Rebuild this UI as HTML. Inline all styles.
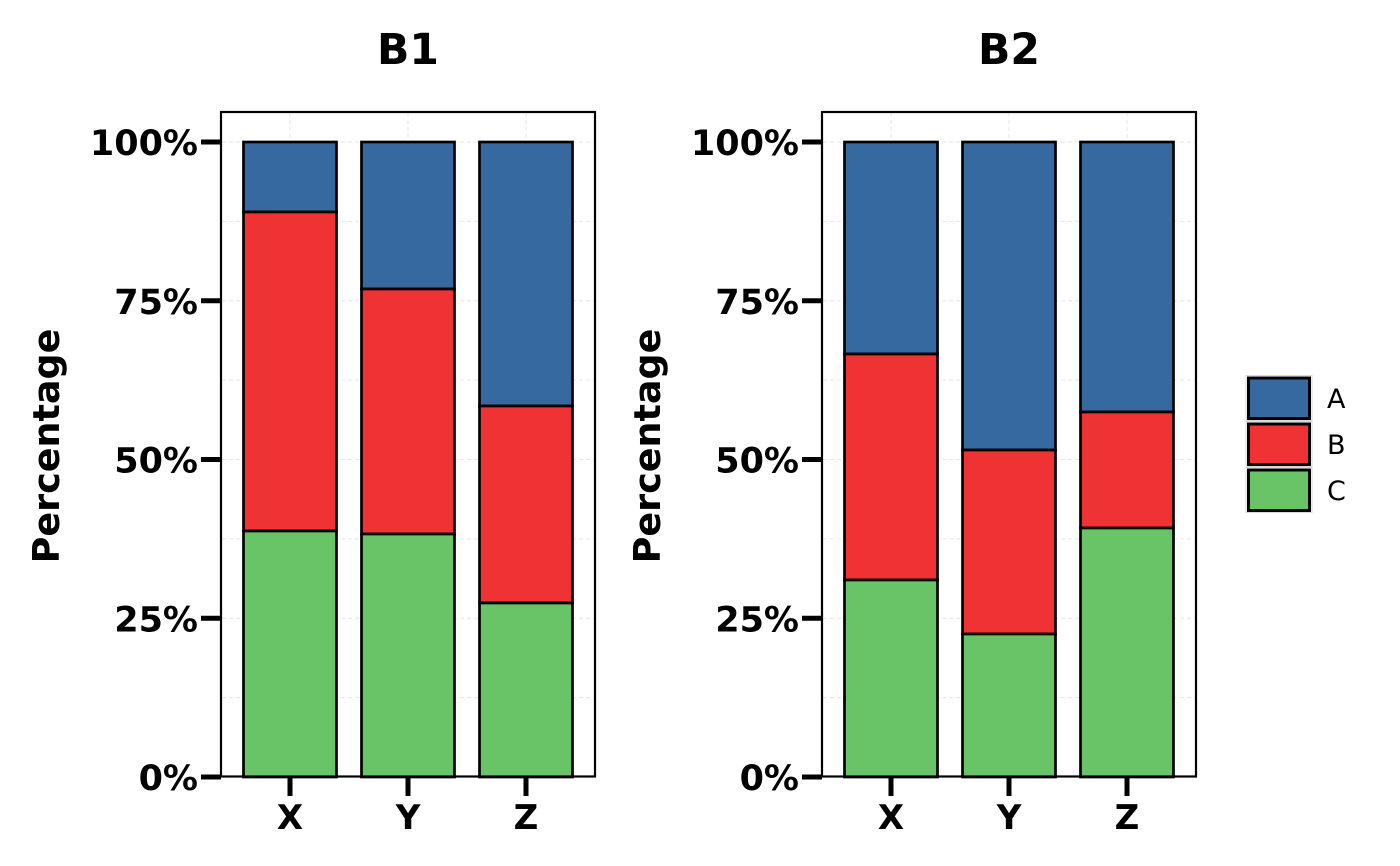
<!DOCTYPE html>
<html>
<head>
<meta charset="utf-8">
<style>
  html, body { margin: 0; padding: 0; background: #ffffff; }
  svg { display: block; }
  text { font-family: "DejaVu Sans", "Liberation Sans", sans-serif; }
</style>
</head>
<body>
<svg width="1400" height="866" viewBox="0 0 1400 866" xmlns="http://www.w3.org/2000/svg">
  <rect x="0" y="0" width="1400" height="866" fill="#ffffff"/>

  <!-- ============ PANEL 1 ============ -->
  <g id="p1">
    <g stroke="#e6e6e6" stroke-width="1" stroke-dasharray="4,3">
      <line x1="222" x2="594" y1="142" y2="142"/>
      <line x1="222" x2="594" y1="221.4" y2="221.4"/>
      <line x1="222" x2="594" y1="300.8" y2="300.8"/>
      <line x1="222" x2="594" y1="380.1" y2="380.1"/>
      <line x1="222" x2="594" y1="459.5" y2="459.5"/>
      <line x1="222" x2="594" y1="538.9" y2="538.9"/>
      <line x1="222" x2="594" y1="618.3" y2="618.3"/>
      <line x1="222" x2="594" y1="697.6" y2="697.6"/>
      <line x1="290" x2="290" y1="113" y2="776"/>
      <line x1="408" x2="408" y1="113" y2="776"/>
      <line x1="526" x2="526" y1="113" y2="776"/>
    </g>
    <g stroke="#000" stroke-width="2.7">
      <rect x="243.5" y="142" width="93" height="70" fill="#3669A0"/>
      <rect x="243.5" y="212" width="93" height="319" fill="#EF3234"/>
      <rect x="243.5" y="531" width="93" height="246" fill="#69C468"/>

      <rect x="361.5" y="142" width="93" height="147" fill="#3669A0"/>
      <rect x="361.5" y="289" width="93" height="245" fill="#EF3234"/>
      <rect x="361.5" y="534" width="93" height="243" fill="#69C468"/>

      <rect x="479.5" y="142" width="93" height="264" fill="#3669A0"/>
      <rect x="479.5" y="406" width="93" height="197" fill="#EF3234"/>
      <rect x="479.5" y="603" width="93" height="174" fill="#69C468"/>
    </g>
    <rect x="221" y="112" width="374" height="664.5" fill="none" stroke="#000" stroke-width="2.2"/>
    <g stroke="#000" stroke-width="5">
      <line x1="201" x2="221" y1="142" y2="142"/>
      <line x1="201" x2="221" y1="300.8" y2="300.8"/>
      <line x1="201" x2="221" y1="459.5" y2="459.5"/>
      <line x1="201" x2="221" y1="618.3" y2="618.3"/>
      <line x1="201" x2="221" y1="777" y2="777"/>
    </g>
    <g stroke="#000" stroke-width="5">
      <line x1="290" x2="290" y1="777" y2="796"/>
      <line x1="408" x2="408" y1="777" y2="796"/>
      <line x1="526" x2="526" y1="777" y2="796"/>
    </g>
    <g font-size="35" font-weight="bold" text-anchor="end" fill="#000">
      <text x="198" y="155">100%</text>
      <text x="198" y="313.8">75%</text>
      <text x="198" y="472.5">50%</text>
      <text x="198" y="631.3">25%</text>
      <text x="198" y="790">0%</text>
    </g>
    <g font-size="34" font-weight="bold" text-anchor="middle" fill="#000">
      <text x="290" y="829">X</text>
      <text x="408" y="829">Y</text>
      <text x="526" y="829">Z</text>
    </g>
    <text x="408" y="64" font-size="42.5" font-weight="bold" text-anchor="middle">B1</text>
    <text transform="translate(59,446) rotate(-90)" font-size="36.5" font-weight="bold" text-anchor="middle">Percentage</text>
  </g>

  <!-- ============ PANEL 2 ============ -->
  <g id="p2" transform="translate(601,0)">
    <g stroke="#e6e6e6" stroke-width="1" stroke-dasharray="4,3">
      <line x1="222" x2="594" y1="142" y2="142"/>
      <line x1="222" x2="594" y1="221.4" y2="221.4"/>
      <line x1="222" x2="594" y1="300.8" y2="300.8"/>
      <line x1="222" x2="594" y1="380.1" y2="380.1"/>
      <line x1="222" x2="594" y1="459.5" y2="459.5"/>
      <line x1="222" x2="594" y1="538.9" y2="538.9"/>
      <line x1="222" x2="594" y1="618.3" y2="618.3"/>
      <line x1="222" x2="594" y1="697.6" y2="697.6"/>
      <line x1="290" x2="290" y1="113" y2="776"/>
      <line x1="408" x2="408" y1="113" y2="776"/>
      <line x1="526" x2="526" y1="113" y2="776"/>
    </g>
    <g stroke="#000" stroke-width="2.7">
      <rect x="243.5" y="142" width="93" height="212" fill="#3669A0"/>
      <rect x="243.5" y="354" width="93" height="226" fill="#EF3234"/>
      <rect x="243.5" y="580" width="93" height="197" fill="#69C468"/>

      <rect x="361.5" y="142" width="93" height="308" fill="#3669A0"/>
      <rect x="361.5" y="450" width="93" height="184" fill="#EF3234"/>
      <rect x="361.5" y="634" width="93" height="143" fill="#69C468"/>

      <rect x="479.5" y="142" width="93" height="270" fill="#3669A0"/>
      <rect x="479.5" y="412" width="93" height="116" fill="#EF3234"/>
      <rect x="479.5" y="528" width="93" height="249" fill="#69C468"/>
    </g>
    <rect x="221" y="112" width="374" height="664.5" fill="none" stroke="#000" stroke-width="2.2"/>
    <g stroke="#000" stroke-width="5">
      <line x1="201" x2="221" y1="142" y2="142"/>
      <line x1="201" x2="221" y1="300.8" y2="300.8"/>
      <line x1="201" x2="221" y1="459.5" y2="459.5"/>
      <line x1="201" x2="221" y1="618.3" y2="618.3"/>
      <line x1="201" x2="221" y1="777" y2="777"/>
    </g>
    <g stroke="#000" stroke-width="5">
      <line x1="290" x2="290" y1="777" y2="796"/>
      <line x1="408" x2="408" y1="777" y2="796"/>
      <line x1="526" x2="526" y1="777" y2="796"/>
    </g>
    <g font-size="35" font-weight="bold" text-anchor="end" fill="#000">
      <text x="198" y="155">100%</text>
      <text x="198" y="313.8">75%</text>
      <text x="198" y="472.5">50%</text>
      <text x="198" y="631.3">25%</text>
      <text x="198" y="790">0%</text>
    </g>
    <g font-size="34" font-weight="bold" text-anchor="middle" fill="#000">
      <text x="290" y="829">X</text>
      <text x="408" y="829">Y</text>
      <text x="526" y="829">Z</text>
    </g>
    <text x="408" y="64" font-size="42.5" font-weight="bold" text-anchor="middle">B2</text>
    <text transform="translate(59,446) rotate(-90)" font-size="36.5" font-weight="bold" text-anchor="middle">Percentage</text>
  </g>

  <!-- ============ LEGEND ============ -->
  <g>
    <rect x="1246" y="375.5" width="66" height="45" fill="none" stroke="#d9d9d9" stroke-width="1"/>
    <rect x="1246" y="421.5" width="66" height="45" fill="none" stroke="#d9d9d9" stroke-width="1"/>
    <rect x="1246" y="467.5" width="66" height="45" fill="none" stroke="#d9d9d9" stroke-width="1"/>
    <g stroke="#000" stroke-width="3">
      <rect x="1248.5" y="378" width="61" height="40.5" fill="#3669A0"/>
      <rect x="1248.5" y="424" width="61" height="40.5" fill="#EF3234"/>
      <rect x="1248.5" y="470" width="61" height="40.5" fill="#69C468"/>
    </g>
    <g font-size="27" fill="#000">
      <text x="1327" y="408">A</text>
      <text x="1327" y="454">B</text>
      <text x="1327" y="500">C</text>
    </g>
  </g>
</svg>
</body>
</html>
